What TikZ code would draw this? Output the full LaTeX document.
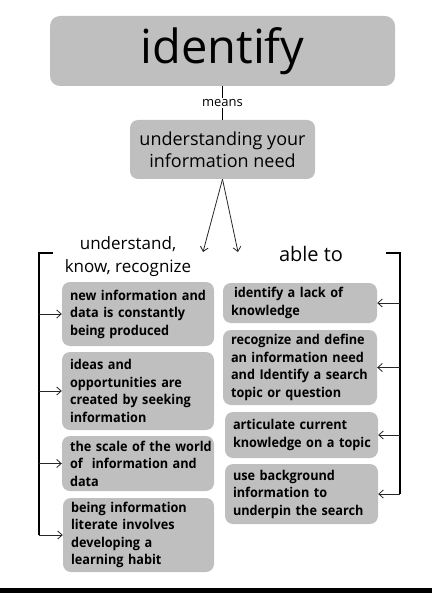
\documentclass[tikz,border=0pt]{standalone}
\usepackage{fontspec}
\setmainfont{Open Sans}
\newfontfamily\boxfont[FakeStretch=0.94]{Open Sans}
\usetikzlibrary{arrows.meta}
\definecolor{boxgray}{HTML}{BFBFBF}
\tikzset{
  gbox/.style={fill=boxgray, rounded corners=8pt, inner xsep=8pt, inner ysep=2pt,
    align=left, font=\boxfont\fontsize{13.5}{17.5}\selectfont\bfseries},
  arr/.style={-{Straight Barb[length=4.5pt,width=8pt]}, line width=0.8pt, black!85},
  brk/.style={line width=1.2pt, black},
}
\newcommand{\bl}[1]{\mbox{#1}}
\begin{document}
\begin{tikzpicture}[x=1pt,y=-1pt]
\useasboundingbox (0,0) rectangle (432,593);
\fill[black] (0,588) rectangle (432,593);
% top boxes
\node[fill=boxgray, rounded corners=10pt, minimum width=345pt, minimum height=70pt,
  font=\fontsize{47}{52}\selectfont] (ident) at (222.5,51) {identify};
\node[fill=boxgray, rounded corners=8pt, minimum width=185pt, minimum height=59pt,
  align=center, inner sep=2pt, font=\fontsize{18}{22}\selectfont] (under) at (222.5,149.5)
  {understanding your\\information need};
\draw[line width=0.8pt] (ident.south) -- node[fill=white, inner sep=1.5pt,
  font=\fontsize{13}{15}\selectfont] (means) {means} (under.north);
% group labels
\node[align=center, inner sep=0pt, font=\fontsize{17}{23}\selectfont] (know) at (128,257)
  {understand,\\know, recognize};
\node[inner sep=0pt, font=\fontsize{20}{24}\selectfont] (able) at (311,254) {able to};
\coordinate (ka) at (203,252);
\coordinate (aa) at (238,252);
\draw[arr] (under.south) -- (ka);
\draw[arr] (under.south) -- (aa);
% left boxes
\node[gbox, text width=136pt, minimum height=64pt] (L1) at (138,314)
  {\bl{new information and}\\\bl{data is constantly}\\\bl{being produced}};
\node[gbox, text width=136pt, minimum height=78pt] (L2) at (138,391)
  {\bl{ideas and}\\\bl{opportunities are}\\\bl{created by seeking}\\\bl{information}};
\node[gbox, text width=136pt, minimum height=55pt] (L3) at (138,463.5)
  {\bl{the scale of the world}\\\bl{of~ information and}\\\bl{data}};
\node[gbox, text width=135pt, minimum height=74pt] (L4) at (138.5,535)
  {\bl{being information}\\\bl{literate involves}\\\bl{developing a}\\\bl{learning habit}};
% right boxes
\node[gbox, text width=138pt, minimum height=40pt] (R1) at (300,303)
  {\bl{\hspace*{3pt}identify a lack of}\\\bl{knowledge}};
\node[gbox, text width=138pt, minimum height=75pt] (R2) at (300,367.5)
  {\bl{recognize and define}\\\bl{an information need}\\\bl{and Identify a search}\\\bl{topic or question}};
\node[gbox, text width=137pt, minimum height=46pt] (R3) at (301.5,435)
  {\bl{articulate current}\\\bl{knowledge on a topic}};
\node[gbox, text width=137pt, minimum height=60pt] (R4) at (301.5,494)
  {\bl{use background}\\\bl{information to}\\\bl{underpin the search}};
% left bracket
\coordinate (lt) at (53,253);
\coordinate (lc) at (39,253);
\draw[brk] (lt) -- (lc) -- (lc |- L4.west);
\foreach \b in {L1,L2,L3,L4}
  \draw[arr] (lc |- \b.west) -- (\b.west);
% right bracket
\coordinate (rt) at (386,253);
\coordinate (rc) at (400,253);
\draw[brk] (rt) -- (rc) -- (rc |- R4.east);
\foreach \b in {R1,R2,R3,R4}
  \draw[arr] (rc |- \b.east) -- (\b.east);
\end{tikzpicture}
\end{document}
